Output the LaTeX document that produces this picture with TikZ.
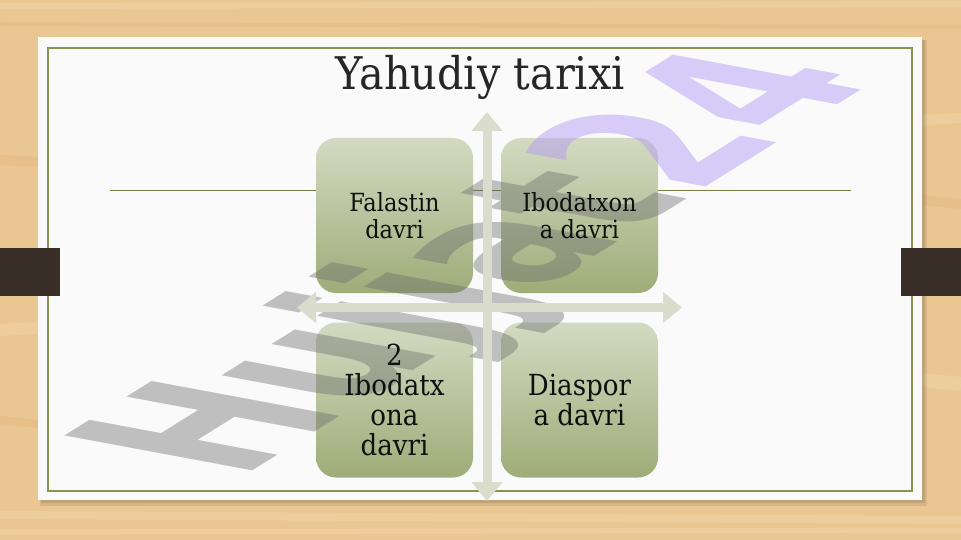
\documentclass[tikz,border=0pt]{standalone}
\usepackage{fontspec}
\setmainfont{DejaVu Serif}
\newfontfamily\titlefont[FakeStretch=0.92]{DejaVu Serif}
\newfontfamily\boxfont[FakeStretch=0.9]{DejaVu Serif}
\newfontfamily\wmfont{DejaVu Sans}
\usetikzlibrary{arrows.meta}
\definecolor{woodA}{RGB}{234,198,146}
\definecolor{woodB}{RGB}{243,214,170}
\definecolor{woodC}{RGB}{224,180,122}
\definecolor{slidec}{RGB}{250,250,250}
\definecolor{olive}{RGB}{140,146,80}
\definecolor{clipc}{RGB}{58,46,40}
\definecolor{boxtop}{RGB}{212,218,194}
\definecolor{boxbot}{RGB}{158,172,120}
\definecolor{arrowc}{RGB}{218,220,204}
\definecolor{wmgray}{RGB}{110,110,110}
\definecolor{wmpurple}{RGB}{174,150,246}
\definecolor{txt}{RGB}{15,15,15}
\tikzset{
  gbox/.style={rounded corners=20pt, top color=boxtop, bottom color=boxbot, draw=none,
    minimum width=157pt, minimum height=155pt, inner sep=0pt},
  btxt/.style={align=center, text=txt, inner sep=0pt},
  upfont/.style={font=\boxfont\fontsize{25}{27}\selectfont},
  lowfont/.style={font=\boxfont\fontsize{29}{30}\selectfont},
  crossarrow/.style={draw=arrowc, line width=9pt,
    arrows={Triangle[width=30pt,length=19pt,fill=arrowc]-Triangle[width=30pt,length=19pt,fill=arrowc]}},
  wm/.style={anchor=base west, inner sep=0pt, transform shape,
    font=\wmfont\bfseries\fontsize{10}{12}\selectfont},
  streak/.style={line width=#1, draw=woodB, opacity=0.45},
  dstreak/.style={line width=#1, draw=woodC, opacity=0.35}
}
\begin{document}
\begin{tikzpicture}[x=1pt,y=-1pt]
\useasboundingbox (0,0) rectangle (961,540);
% wood background
\fill[woodA] (0,0) rectangle (961,540);
\draw[streak=6pt] (0,6) -- (961,4);
\draw[dstreak=4pt] (0,24) -- (961,27);
\draw[streak=8pt] (0,515) -- (961,520);
\draw[streak=5pt] (0,532) -- (961,530);
\draw[dstreak=10pt] (0,160) -- (38,162);
\draw[streak=12pt] (0,330) -- (38,328);
\draw[dstreak=8pt] (0,420) -- (38,424);
\draw[streak=10pt] (922,120) -- (961,118);
\draw[dstreak=10pt] (922,200) -- (961,204);
\draw[streak=14pt] (922,380) -- (961,384);
% slide with shadow
\fill[black,opacity=0.08] (40,40) rectangle (927,506);
\fill[black,opacity=0.10] (41,40) rectangle (925,503);
\fill[slidec] (38,37) rectangle (922,500);
\draw[olive,line width=1.3pt] (48,48) rectangle (912,491);
\draw[olive!85!black,line width=0.9pt] (110,190) -- (851,190);
% binder clips
\fill[clipc] (0,248) rectangle (60,296);
\fill[clipc] (901,248) rectangle (961,296);
% title
\node[anchor=base, inner sep=0pt, text=black!85, font=\titlefont\fontsize{45}{50}\selectfont] (title) at (480,90) {Yahudiy tarixi};
% boxes
\node[gbox] (b1) at (394.5,215.5) {};
\node[gbox] (b2) at (579.5,215.5) {};
\node[gbox] (b3) at (394.5,400) {};
\node[gbox] (b4) at (579.5,400) {};
% watermark
\begin{scope}[shift={(238,480)}, cm={13.34,8.34,-25.78,4.79,(0,0)}]
\node[wm, text=wmgray, text opacity=0.42] (wm1) at (0,0) {Hujjat};
\node[wm, text=wmpurple, text opacity=0.45] (wm2) at (wm1.base east) {24};
\end{scope}
% cross arrows
\coordinate (vt) at (487,112);
\coordinate (vb) at (487,501);
\coordinate (hl) at (297,307.5);
\coordinate (hr) at (682,307.5);
\draw[crossarrow] (vt) -- (vb);
\draw[crossarrow] (hl) -- (hr);
% box texts
\node[btxt, upfont] at (b1) {Falastin\\davri};
\node[btxt, upfont] at (b2) {Ibodatxon\\a davri};
\node[btxt, lowfont] at (b3) {2\\Ibodatx\\ona\\davri};
\node[btxt, lowfont] at (b4) {Diaspor\\a davri};
\end{tikzpicture}
\end{document}
